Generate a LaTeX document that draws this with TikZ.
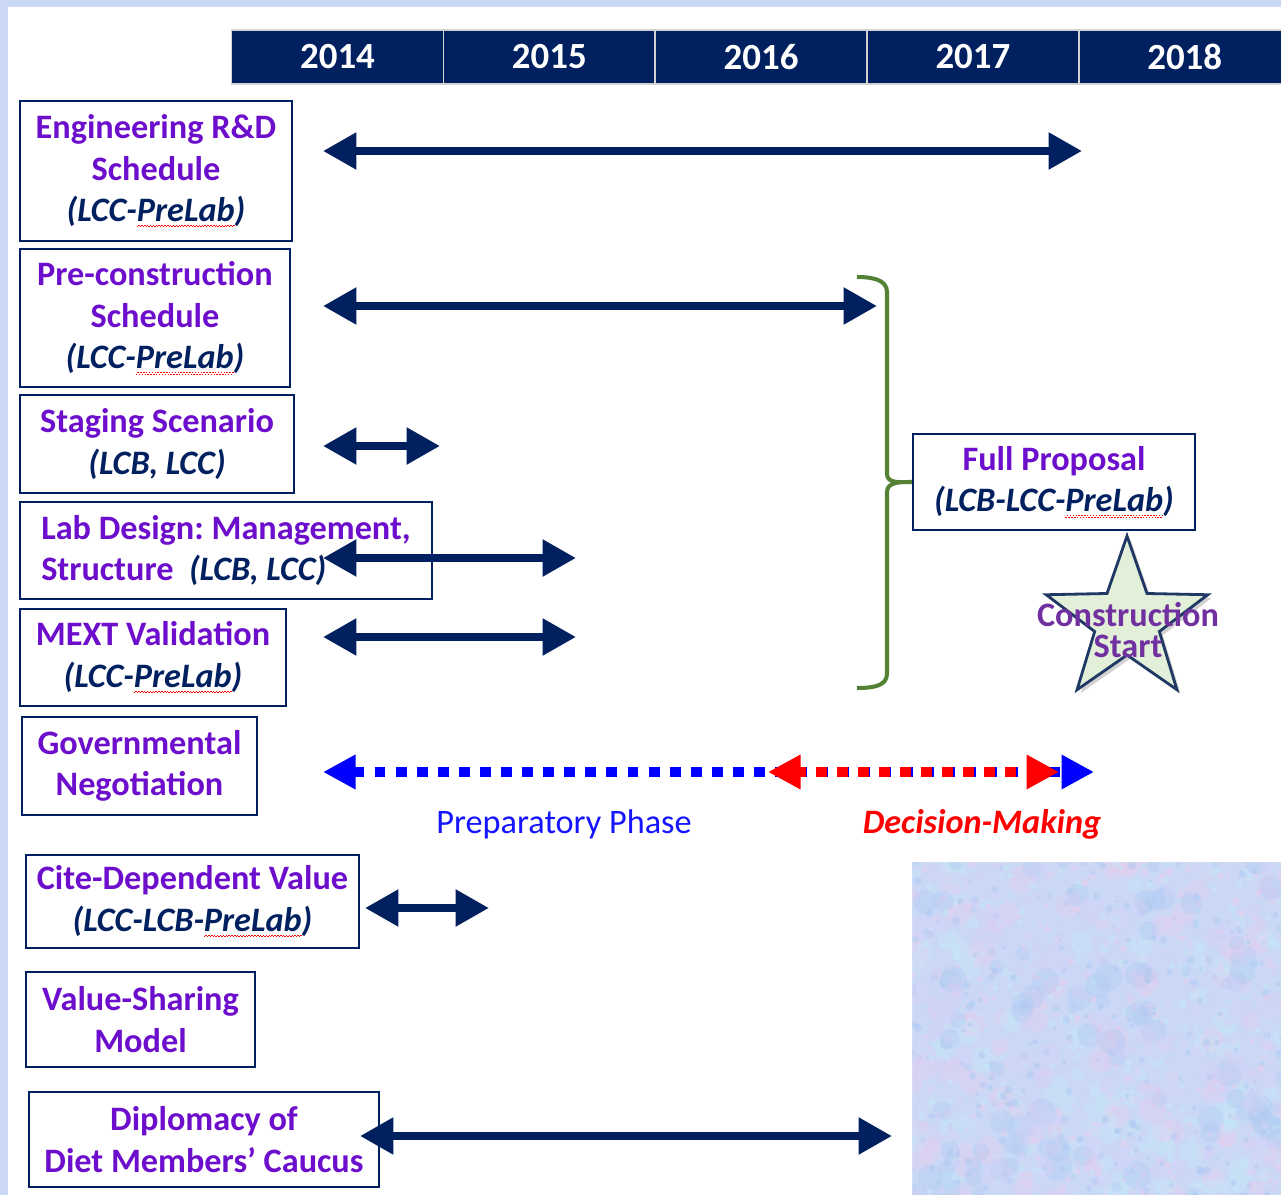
\documentclass[tikz,border=0pt]{standalone}
\usepackage{fontspec}
\setmainfont{Carlito}
\frenchspacing
\usetikzlibrary{arrows.meta,shapes.geometric,shadows}

\definecolor{navyblue}{RGB}{0,32,96}
\definecolor{taskpurple}{RGB}{108,14,204}
\definecolor{starpurple}{RGB}{112,48,160}
\definecolor{bracegreen}{RGB}{84,130,53}
\definecolor{starfill}{RGB}{226,239,217}
\definecolor{starline}{RGB}{31,56,100}
\definecolor{phaseblue}{RGB}{20,20,255}
\definecolor{texture}{RGB}{202,216,246}
\definecolor{tpink}{RGB}{236,204,236}
\definecolor{tcyan}{RGB}{196,234,248}
\definecolor{tblue}{RGB}{170,200,242}
\definecolor{tlav}{RGB}{216,208,246}

\newcommand\spellmark[1]{\setbox0\hbox{#1}\rlap{\textcolor{red}{\hbox to\wd0{\xleaders\hbox{\rule[-3.4pt]{0.8pt}{0.55pt}\rule[-2.6pt]{0.8pt}{0.55pt}}\hfill}}}\box0}
\newcommand\orgtag[1]{{\color{navyblue}\itshape #1}}

\tikzset{
    taskbox/.style={draw=navyblue, line width=1.4pt, fill=white, align=center, inner sep=0pt,
        text=taskpurple, font=\bfseries\fontsize{19.5}{23.6}\selectfont},
    yearcell/.style={fill=navyblue, draw=gray!35, line width=0.8pt, minimum width=4.236cm,
        minimum height=1.08cm, inner sep=0pt, text=white, font=\bfseries\fontsize{21}{25}\selectfont},
    timespan/.style={navyblue, line width=4.5pt,
        {Triangle[length=19pt,width=20pt]}-{Triangle[length=19pt,width=20pt]}},
    phaseline/.style={line width=5.6pt, dash pattern=on 6.2pt off 5.8pt,
        {Triangle[length=18.5pt,width=18.5pt]}-{Triangle[length=18.5pt,width=18.5pt]}}
}

\begin{document}
\begin{tikzpicture}[x=0.02cm, y=-0.02cm]
    \useasboundingbox (0,0) rectangle (1281,1195);
    \fill[texture] (0,0) rectangle (1281,1195);
    \pgfmathsetseed{17}
    \foreach \col in {tpink,tcyan,tblue,tlav} {
        \foreach \k in {1,...,90} {
            \pgfmathsetmacro\px{905+380*rnd}
            \pgfmathsetmacro\py{855+345*rnd}
            \pgfmathsetmacro\rr{3+5*rnd}
            \fill[\col, opacity=0.3] (\px,\py) circle[radius=\rr pt];
        }
        \foreach \k in {1,...,250} {
            \pgfmathsetmacro\px{905+380*rnd}
            \pgfmathsetmacro\py{855+345*rnd}
            \pgfmathsetmacro\rr{0.8+1.6*rnd}
            \fill[\col, opacity=0.45] (\px,\py) circle[radius=\rr pt];
        }
    }
    \fill[white] (8,7) -- (1281,7) -- (1281,862) -- (912,862) -- (912,1195) -- (8,1195) -- cycle;

    \foreach \yr [count=\i from 0] in {2014,2015,2016,2017,2018}
        \node[yearcell] (y\yr) at (337.5+211.8*\i, 57) {\yr};

    \node[taskbox, minimum width=5.44cm, minimum height=2.8cm] (eng) at (156,171)
        {Engineering R\&D\\Schedule\\\orgtag{(LCC-\spellmark{PreLab})}};
    \node[taskbox, minimum width=5.4cm, minimum height=2.76cm] (precon) at (155,318)
        {Pre-construction\\Schedule\\\orgtag{(LCC-\spellmark{PreLab})}};
    \node[taskbox, minimum width=5.48cm, minimum height=1.96cm] (staging) at (157,444)
        {Staging Scenario\\\orgtag{(LCB, LCC)}};
    \node[taskbox, align=left, minimum width=8.24cm, minimum height=1.94cm] (labdesign) at (226,550.5)
        {Lab Design: Management,\\Structure\ \ \orgtag{(LCB, LCC)}};
    \node[taskbox, minimum width=5.32cm, minimum height=1.94cm] (mext) at (153,657.5)
        {MEXT Validation\\\orgtag{(LCC-\spellmark{PreLab})}};
    \node[taskbox, minimum width=4.7cm, minimum height=1.96cm] (gov) at (139.5,766)
        {Governmental\\Negotiation};
    \node[taskbox, minimum width=6.66cm, minimum height=1.86cm] (cite) at (192.5,901.5)
        {Cite-Dependent Value\\\orgtag{(LCC-LCB-\spellmark{PreLab})}};
    \node[taskbox, minimum width=4.58cm, minimum height=1.9cm] (valshare) at (140.5,1019.5)
        {Value-Sharing\\Model};
    \node[taskbox, minimum width=7cm, minimum height=1.9cm] (diplo) at (204,1139.5)
        {Diplomacy of\\Diet Members’ Caucus};
    \node[taskbox, minimum width=5.64cm, minimum height=1.92cm] (fp) at (1054,482)
        {Full Proposal\\\orgtag{(LCB-LCC-\spellmark{PreLab})}};

    \coordinate (eng-a) at (323,151);
    \coordinate (eng-b) at (1082,151);
    \coordinate (precon-a) at (323,306);
    \coordinate (precon-b) at (877,306);
    \coordinate (staging-a) at (323,446);
    \coordinate (staging-b) at (440,446);
    \coordinate (labdesign-a) at (323,558);
    \coordinate (labdesign-b) at (576,558);
    \coordinate (mext-a) at (323,637);
    \coordinate (mext-b) at (576,637);
    \coordinate (cite-a) at (365,908);
    \coordinate (cite-b) at (489,908);
    \coordinate (diplo-a) at (360,1136);
    \coordinate (diplo-b) at (892,1136);
    \coordinate (gov-a) at (323,772);
    \coordinate (gov-b) at (1094,772);
    \coordinate (dec-a) at (768,772);
    \coordinate (dec-b) at (1059,772);

    \draw[timespan] (eng-a) -- (eng-b);
    \draw[timespan] (precon-a) -- (precon-b);
    \draw[timespan] (staging-a) -- (staging-b);
    \draw[timespan] (labdesign-a) -- (labdesign-b);
    \draw[timespan] (mext-a) -- (mext-b);
    \draw[timespan] (cite-a) -- (cite-b);
    \draw[timespan] (diplo-a) -- (diplo-b);

    \draw[phaseline, blue] (gov-a) -- (gov-b);
    \draw[phaseline, red, dash phase=2.2pt] (dec-a) -- (dec-b);
    \node[text=phaseblue, font=\fontsize{19.5}{22}\selectfont] (prep) at (564,824) {Preparatory Phase};
    \node[text=red, font=\bfseries\itshape\fontsize{19.5}{22}\selectfont] (dec) at (982,824) {Decision-Making};

    \draw[bracegreen, line width=2.3pt] (857,277) to[out=0,in=90] (887,292) -- (887,474)
        to[out=-90,in=180] (fp.west) to[out=180,in=90] (887,492) -- (887,674)
        to[out=-90,in=0] (857,688);

    \node[star, star points=5, star point ratio=2.5, minimum size=3.4cm, inner sep=0pt,
        draw=starline, line width=1.6pt, fill=starfill,
        drop shadow={opacity=0.35, shadow xshift=2pt, shadow yshift=-2pt}] (star) at (1127,621) {};
    \node[text=starpurple, align=center, font=\bfseries\fontsize{19.5}{18}\selectfont] (startxt) at (1128,630)
        {Construction\\Start};
\end{tikzpicture}
\end{document}
